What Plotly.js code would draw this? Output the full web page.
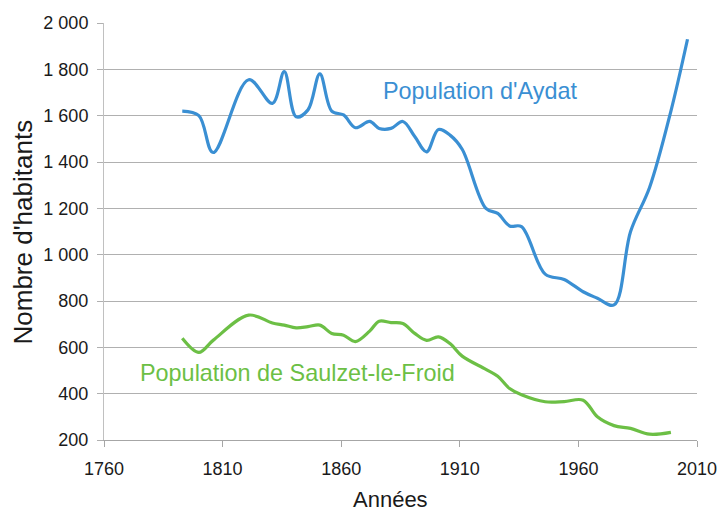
<!DOCTYPE html>
<html>
<head>
<meta charset="utf-8">
<script src="https://cdn.plot.ly/plotly-3.0.1.min.js"></script>
<style>html,body{margin:0;padding:0;background:#fff;}#chart{width:718px;height:514px;}</style>
</head>
<body>
<div id="chart"></div>
<script>
var aydatYears = [1793, 1800, 1806, 1821, 1831, 1836, 1841, 1846, 1851, 1856, 1861, 1866, 1872, 1876, 1881, 1886, 1891, 1896, 1901, 1906, 1911, 1921, 1926, 1931, 1936, 1946, 1954, 1962, 1968, 1975, 1982, 1990, 1999, 2006];
var aydatPop   = [1620, 1600, 1441, 1755, 1653, 1790, 1595, 1625, 1780, 1620, 1603, 1548, 1575, 1545, 1545, 1575, 1510, 1444, 1540, 1515, 1455, 1200, 1178, 1124, 1121, 916, 893, 840, 812, 783, 1100, 1290, 1620, 1930];
var saulzetYears = [1793, 1800, 1806, 1821, 1831, 1836, 1841, 1846, 1851, 1856, 1861, 1866, 1872, 1876, 1881, 1886, 1891, 1896, 1901, 1906, 1911, 1921, 1926, 1931, 1936, 1946, 1954, 1962, 1968, 1975, 1982, 1990, 1999];
var saulzetPop   = [639, 578, 630, 739, 705, 696, 684, 689, 696, 660, 652, 625, 670, 713, 707, 703, 660, 630, 645, 615, 562, 505, 475, 422, 395, 365, 366, 372, 300, 262, 250, 225, 233];
var xTickVals = [1760, 1810, 1860, 1910, 1960, 2010];
var yTickVals = [200, 400, 600, 800, 1000, 1200, 1400, 1600, 1800, 2000];
var labelAydat = "Population d'Aydat";
var labelSaulzet = "Population de Saulzet-le-Froid";
var xTitle = 'Années';
var yTitle = "Nombre d'habitants";

var blue = '#3a8fd3';
var green = '#6cbf45';

var traces = [
  {x: aydatYears, y: aydatPop, type: 'scatter', mode: 'lines', name: labelAydat,
   line: {color: blue, width: 3.2, shape: 'spline', smoothing: 1}},
  {x: saulzetYears, y: saulzetPop, type: 'scatter', mode: 'lines', name: labelSaulzet,
   line: {color: green, width: 3.2, shape: 'spline', smoothing: 1}}
];

var font = 'Liberation Sans, Arial, sans-serif';
var plotW = 718 - 104 - 21, plotH = 514 - 23 - 74;
var layout = {
  width: 718, height: 514,
  margin: {l: 104, r: 21, t: 23, b: 74},
  paper_bgcolor: '#fff', plot_bgcolor: '#fff',
  showlegend: false,
  separators: ', ',
  font: {family: font, color: '#1a1a1a', size: 18},
  xaxis: {
    range: [1760, 2010], tickvals: xTickVals, showgrid: false, zeroline: false,
    showline: true, linecolor: '#a6a6a6', linewidth: 1,
    ticks: 'outside', ticklen: 6, tickcolor: '#a6a6a6', ticklabelstandoff: 6,
    tickfont: {family: font, size: 18, color: '#1a1a1a'}
  },
  yaxis: {
    range: [200, 2000], tickvals: yTickVals, separatethousands: true,
    showgrid: true, gridcolor: '#b0b0b0', gridwidth: 1, zeroline: false,
    showline: true, linecolor: '#c0c0c0', linewidth: 1,
    ticks: 'outside', ticklen: 6, tickcolor: '#b0b0b0', ticklabelstandoff: 5,
    tickfont: {family: font, size: 18, color: '#1a1a1a'}
  },
  annotations: [
    {x: 1918.5, y: 1706, xref: 'x', yref: 'y', text: labelAydat, showarrow: false,
     font: {family: font, size: 23.4, color: blue}},
    {x: 1841.4, y: 489, xref: 'x', yref: 'y', text: labelSaulzet, showarrow: false,
     font: {family: font, size: 23.4, color: green}},
    {x: (390.5 - 104) / plotW, y: -(499 - 440) / plotH, xref: 'paper', yref: 'paper',
     xanchor: 'center', yanchor: 'middle', text: xTitle, showarrow: false,
     font: {family: font, size: 22, color: '#1a1a1a'}},
    {x: (22.5 - 104) / plotW, y: (440 - 232) / plotH, xref: 'paper', yref: 'paper',
     xanchor: 'center', yanchor: 'middle', textangle: -90, text: yTitle, showarrow: false,
     font: {family: font, size: 26, color: '#1a1a1a'}}
  ]
};
Plotly.newPlot('chart', traces, layout, {displayModeBar: false, staticPlot: true});
</script>
</body>
</html>
